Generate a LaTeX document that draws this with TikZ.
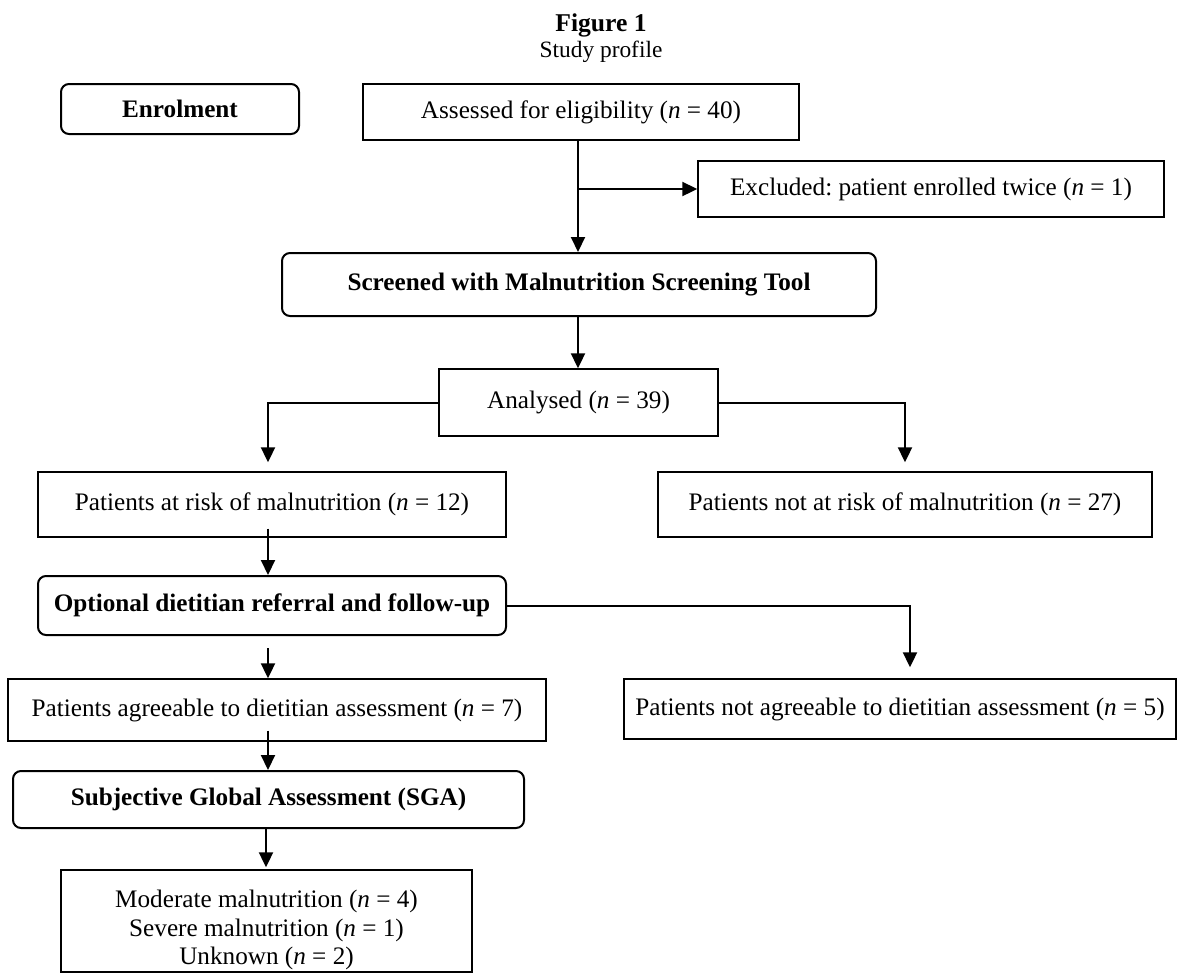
\documentclass[tikz,border=0pt]{standalone}
\usepackage{fontspec}
\setmainfont{Liberation Serif}
\usetikzlibrary{arrows.meta}
\frenchspacing
\newcommand\fsz{\fontsize{12.6}{14.3}\selectfont}
\tikzset{
  box/.style={draw, line width=0.7pt, inner sep=0pt, align=center, font=\fsz},
  rbox/.style={draw, line width=1pt, rounded corners=4pt, inner sep=0pt, align=center, font=\fsz\bfseries},
  arr/.style={line width=1pt, -{Triangle[length=7.5pt,width=7pt]}},
}
\begin{document}
\begin{tikzpicture}[x=0.5pt, y=-0.5pt]
\useasboundingbox (0,0) rectangle (1188,976);
% titles
\node[font=\bfseries\fontsize{12.8}{15}\selectfont, anchor=base] (title) at (601,31) {Figure 1};
\node[font=\fontsize{11.7}{14}\selectfont, anchor=base] (sub) at (601,57) {Study profile};
% nodes
\node[rbox, minimum width=119pt, minimum height=25pt] (enrol) at (180,109) {Enrolment};
\node[box, minimum width=218pt, minimum height=28pt] (assess) at (581,112) {Assessed for eligibility (\textit{n} = 40)};
\node[box, minimum width=233pt, minimum height=28pt] (excl) at (931,189) {Excluded: patient enrolled twice (\textit{n} = 1)};
\node[rbox, minimum width=297pt, minimum height=31.5pt] (screen) at (579,284.5) {Screened with Malnutrition Screening Tool};
\node[box, minimum width=139.5pt, minimum height=33.5pt] (anal) at (578.5,402.5) {Analysed (\textit{n} = 39)};
\node[box, minimum width=234pt, minimum height=32.5pt] (risk) at (272,504.5) {Patients at risk of malnutrition (\textit{n} = 12)};
\node[box, minimum width=247pt, minimum height=32.5pt] (norisk) at (905,504.5) {Patients not at risk of malnutrition (\textit{n} = 27)};
\node[rbox, minimum width=234pt, minimum height=29.5pt] (opt) at (272,605.5) {Optional dietitian referral and follow-up};
\node[box, minimum width=269pt, minimum height=31pt] (agree) at (277,710) {Patients agreeable to dietitian assessment (\textit{n} = 7)};
\node[box, minimum width=276pt, minimum height=30pt] (notagree) at (900,709) {Patients not agreeable to dietitian assessment (\textit{n} = 5)};
\node[rbox, minimum width=255.5pt, minimum height=28.5pt] (sga) at (268.5,799.5) {Subjective Global Assessment (SGA)};
\node[box, minimum width=205.5pt, minimum height=51pt] (final) at (266.5,921) {\rule{0pt}{17.7pt}Moderate malnutrition (\textit{n} = 4)\\Severe malnutrition (\textit{n} = 1)\\Unknown (\textit{n} = 2)};
% helper columns
\coordinate (ax) at (578,0);
\coordinate (cx) at (268,0);
\coordinate (rx) at (910,0);
\coordinate (fx) at (266,0);
% connectors
\draw[arr] (assess.south -| ax) -- (screen.north -| ax);
\draw[arr] (excl.west -| ax) -- (excl.west);
\draw[arr] (screen.south -| ax) -- (anal.north -| ax);
\draw[arr, shorten >=4.5pt] (anal.west) -| (risk.north -| cx);
\draw[arr, shorten >=4.5pt] (anal.east) -| (norisk.north);
\draw[arr, shorten <=-4.5pt] (risk.south -| cx) -- (opt.north -| cx);
\draw[arr, shorten >=5.5pt] (opt.east) -| (notagree.north -| rx);
\draw[arr, shorten <=6pt] (opt.south -| cx) -- (agree.north -| cx);
\draw[arr, shorten <=-5.5pt] (agree.south -| cx) -- (sga.north -| cx);
\draw[arr, shorten >=1pt] (sga.south -| fx) -- (final.north -| fx);
\end{tikzpicture}
\end{document}
